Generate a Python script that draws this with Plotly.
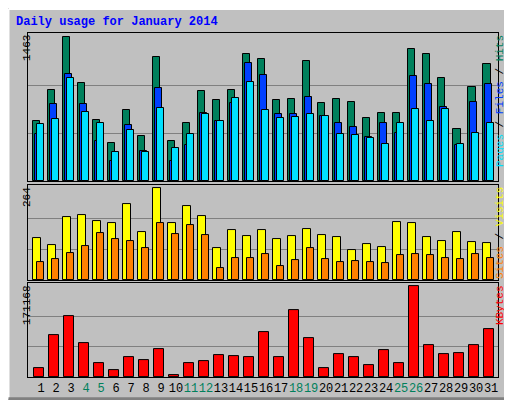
import plotly.graph_objects as go
from plotly.subplots import make_subplots

days = list(range(1, 32))
weekend = [4, 5, 11, 12, 18, 19, 25, 26]
hits = [615, 924, 1463, 994, 625, 386, 725, 456, 1264, 406, 595, 914, 825, 924, 1293, 1244,
        825, 835, 1224, 795, 835, 805, 645, 695, 695, 1343, 1293, 1044, 525, 954, 1194]
files = [475, 785, 1094, 785, 406, 206, 565, 306, 944, 206, 366, 695, 615, 795, 1204, 1084,
         685, 685, 855, 665, 595, 545, 446, 585, 485, 1064, 984, 755, 366, 805, 984]
pages = [575, 635, 1044, 705, 585, 296, 515, 296, 745, 336, 475, 685, 615, 845, 1004, 725,
         645, 655, 685, 665, 475, 466, 436, 376, 585, 735, 615, 735, 376, 485, 595]
visits = [121, 100, 181, 187, 169, 164, 218, 138, 264, 164, 212, 184, 92, 143, 126, 143,
          118, 126, 146, 129, 123, 86, 103, 95, 166, 164, 123, 112, 138, 109, 106]
sites = [52, 60, 77, 98, 135, 118, 112, 92, 164, 132, 158, 129, 34, 63, 63, 75,
         40, 57, 92, 60, 52, 55, 52, 49, 72, 75, 72, 63, 60, 75, 63]
kbytes = [17492, 79337, 114945, 64344, 26862, 13743, 38107, 32484, 53100, 4373, 26862, 30610,
          41855, 39981, 38107, 84959, 38107, 126190, 73714, 17492, 43729, 38107, 23114, 51225,
          26862, 171168, 60596, 43729, 45603, 60596, 90580]

BG = "#C0C0C0"
fig = make_subplots(rows=3, cols=1, shared_xaxes=True)

def bars(y, color, offset, width, row):
    fig.add_trace(go.Bar(x=days, y=y, marker_color=color, offset=offset, width=width,
                         marker_line=dict(color="black", width=1), showlegend=False), row=row, col=1)

bars(hits, "#00805C", -0.51, 0.47, 1)
bars(files, "#0040FF", -0.42, 0.45, 1)
bars(pages, "#00E0FF", -0.25, 0.47, 1)
bars(visits, "#FFFF00", -0.51, 0.53, 2)
bars(sites, "#FF8000", -0.25, 0.47, 2)
bars(kbytes, "#FF0000", -0.45, 0.67, 3)

font = "Liberation Mono"
fig.update_layout(
    width=512, height=400, barmode="overlay", bargap=0,
    paper_bgcolor=BG, plot_bgcolor=BG,
    margin=dict(l=20, r=22, t=25, b=24),
    font=dict(family=font, size=12, color="black"),
    yaxis=dict(domain=[0.57, 1.0]),
    yaxis2=dict(domain=[0.282, 0.558]),
    yaxis3=dict(domain=[0, 0.273]),
)
for i, m in enumerate([max(hits), max(visits), max(kbytes)], start=1):
    fig.update_yaxes(range=[0, m * 1.03], tickvals=[m / 3, 2 * m / 3], showticklabels=False,
                     gridcolor="#808080", gridwidth=1, zeroline=False,
                     showline=True, linecolor="black", mirror=True, row=i, col=1)
fig.update_xaxes(range=[0.13, 31.46], showgrid=False, showline=True, linecolor="black",
                 mirror=True, ticks="", zeroline=False)
ticktext = [f"<span style='color:#00805C'>{d}</span>" if d in weekend else str(d) for d in days]
fig.update_xaxes(tickvals=days, ticktext=ticktext, tickangle=0, tickfont=dict(size=12),
                 row=3, col=1)

fig.add_annotation(text="Daily usage for January 2014", xref="paper", yref="paper",
                   x=-0.03, y=1.0, yshift=20, xanchor="left", yanchor="top", showarrow=False,
                   font=dict(color="#0000FF", size=12, family=font, weight="bold"))

left_labels = [("1463", 1.0), ("264", 0.558), ("171168", 0.273)]
for txt, yy in left_labels:
    fig.add_annotation(text=txt, textangle=-90, xref="paper", yref="paper", x=0, xshift=-9,
                       y=yy, yanchor="top", showarrow=False, font=dict(size=11))

right_labels = [
    ("<span style='color:#00E0FF'>Pages</span> / <span style='color:#0040FF'>Files</span> / "
     "<span style='color:#00805C'>Hits</span>", 1.0),
    ("<span style='color:#FF8000'>Sites</span> / <span style='color:#FFFF00'>Visits</span>", 0.558),
    ("<span style='color:#FF0000'>KBytes</span>", 0.273),
]
for txt, yy in right_labels:
    fig.add_annotation(text=txt, textangle=-90, xref="paper", yref="paper", x=1, xshift=10,
                       y=yy, yanchor="top", showarrow=False, font=dict(size=11, color="black"))

# outer bevelled frame
x0, x1, y0, y1 = -0.0415, 1.0425, -0.0635, 1.0695
fig.add_shape(type="line", xref="paper", yref="paper", x0=x0, x1=x1, y0=y1, y1=y1,
              line=dict(color="white", width=2))
fig.add_shape(type="line", xref="paper", yref="paper", x0=x0, x1=x0, y0=y0, y1=y1,
              line=dict(color="white", width=2))
fig.add_shape(type="line", xref="paper", yref="paper", x0=x0, x1=x1, y0=y0, y1=y0,
              line=dict(color="#808080", width=3))
fig.add_shape(type="line", xref="paper", yref="paper", x0=x1, x1=x1, y0=y0, y1=y1,
              line=dict(color="#808080", width=3))

fig.write_html("out.html")
